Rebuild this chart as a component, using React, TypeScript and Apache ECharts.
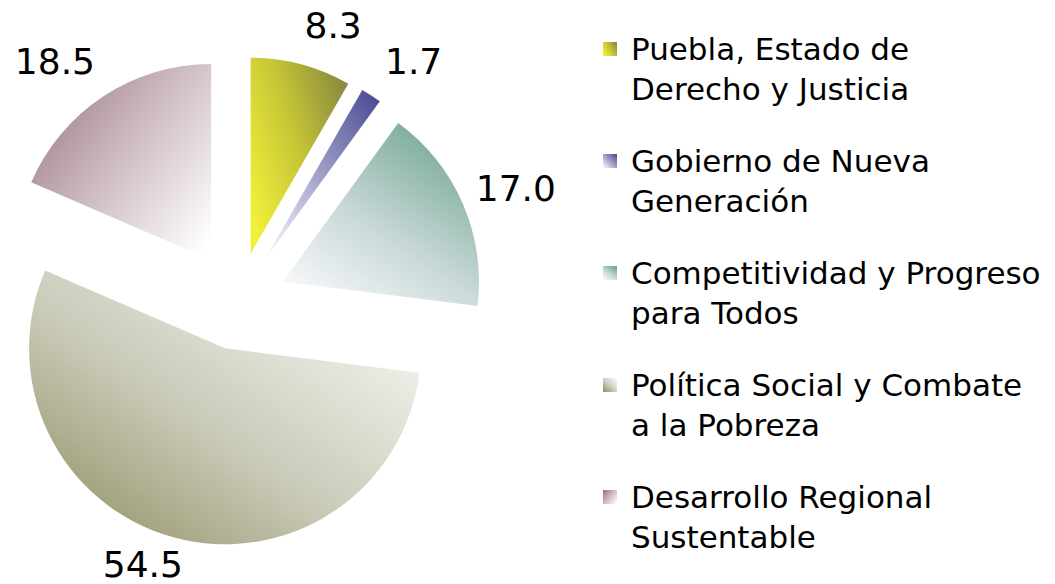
import React, { useEffect, useRef } from "react";
import * as echarts from "echarts";

const categories = [
  "Puebla, Estado de\nDerecho y Justicia",
  "Gobierno de Nueva\nGeneración",
  "Competitividad y Progreso\npara Todos",
  "Política Social y Combate\na la Pobreza",
  "Desarrollo Regional\nSustentable",
];
const values = [8.3, 1.7, 17.0, 54.5, 18.5];

// gradient styles per slice: [x, y, x2, y2, stops]
const gradients: [number, number, number, number, [number, string][]][] = [
  [0, 0.8, 1, 0.2, [[0, "#f2f03a"], [0.5, "#c6c636"], [1, "#8a8a40"]]],
  [1, 0, 0, 1, [[0, "#484690"], [0.5, "#9e9ec8"], [1, "#ffffff"]]],
  [0.75, 0, 0.1, 0.95, [[0, "#76a894"], [0.55, "#c8d8d8"], [1, "#f8f8fa"]]],
  [0, 1, 1, 0, [[0, "#8c8c5e"], [0.45, "#cbcbba"], [1, "#ffffff"]]],
  [0, 0.1, 1, 0.9, [[0, "#987880"], [0.45, "#cbb8bc"], [1, "#ffffff"]]],
];
// label line lengths (layout only, line hidden)
const labelLens: [number, number][] = [
  [40, -12],
  [40, -13],
  [38, -27],
  [28, -22],
  [41, -19],
];

export default function App() {
  const ref = useRef<HTMLDivElement>(null);
  useEffect(() => {
    if (!ref.current) return;
    const chart = echarts.init(ref.current, undefined, { renderer: "svg" });
    const data = values.map((v, i) => {
      const g = gradients[i];
      return {
        name: categories[i],
        value: v,
        selected: true,
        itemStyle: {
          color: new echarts.graphic.LinearGradient(
            g[0],
            g[1],
            g[2],
            g[3],
            g[4].map(([offset, color]) => ({ offset, color }))
          ),
        },
        labelLine: { show: false, length: labelLens[i][0], length2: labelLens[i][1] },
      };
    });
    chart.setOption({
      animation: false,
      backgroundColor: "#ffffff",
      legend: {
        orient: "vertical",
        left: 603,
        top: -11,
        padding: 0,
        itemWidth: 14,
        itemHeight: 14,
        itemGap: -8,
        icon: "rect",
        selectedMode: false,
        formatter: (name: string) => "\n" + name,
        textStyle: {
          fontFamily: "DejaVu Sans",
          fontSize: 31,
          color: "#000000",
          lineHeight: 40,
          padding: [0, 0, 0, 9],
        },
        data: categories,
      },
      series: [
        {
          type: "pie",
          center: [238, 301],
          radius: 196,
          startAngle: 90,
          clockwise: true,
          selectedMode: "multiple",
          selectedOffset: 49,
          avoidLabelOverlap: false,
          label: {
            show: true,
            position: "outside",
            formatter: (p: any) => p.value.toFixed(1),
            fontFamily: "DejaVu Sans",
            fontSize: 36,
            color: "#000000",
          },
          emphasis: { disabled: true },
          select: { itemStyle: {} },
          data,
        },
      ],
    });
    return () => chart.dispose();
  }, []);
  return (
    <div
      ref={ref}
      style={{ position: "fixed", left: 0, top: 0, width: 1055, height: 584 }}
    />
  );
}
